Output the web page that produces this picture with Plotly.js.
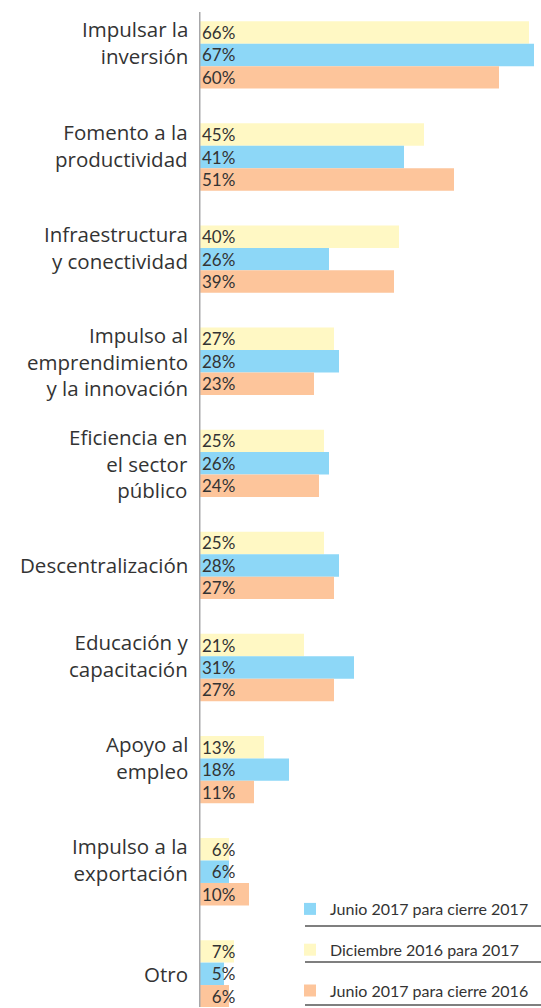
<!DOCTYPE html>
<html>
<head>
<meta charset="utf-8">
<script src="https://cdn.plot.ly/plotly-3.0.1.min.js"></script>
<style>html,body{margin:0;padding:0;background:#fff;}#chart{width:541px;height:1008px;}</style>
</head>
<body>
<div id="chart"></div>
<script>
const categories = [
  "Impulsar la<br>inversión",
  "Fomento a la<br>productividad",
  "Infraestructura<br>y conectividad",
  "Impulso al<br>emprendimiento<br>y la innovación",
  "Eficiencia en<br>el sector<br>público",
  "Descentralización",
  "Educación y<br>capacitación",
  "Apoyo al<br>empleo",
  "Impulso a la<br>exportación",
  "Otro"
];
const seriesNames = ["Diciembre 2016 para 2017", "Junio 2017 para cierre 2017", "Junio 2017 para cierre 2016"];
const dic2016para2017 = [66, 45, 40, 27, 25, 25, 21, 13, 6, 7];
const jun2017cierre2017 = [67, 41, 26, 28, 26, 28, 31, 18, 6, 5];
const jun2017cierre2016 = [60, 51, 39, 23, 24, 27, 27, 11, 10, 6];
const colors = ["#FFF8C4", "#8DD7F7", "#FDC59B"];
const ranks = [2, 1, 3];

const fmt = v => (v < 10 ? "\u2007" : "") + v + "%";
const allSeries = [dic2016para2017, jun2017cierre2017, jun2017cierre2016];

const traces = allSeries.map((vals, i) => ({
  type: "bar",
  orientation: "h",
  name: seriesNames[i],
  x: vals,
  y: categories,
  text: vals.map(fmt),
  textposition: "inside",
  insidetextanchor: "start",
  constraintext: "none",
  textangle: 0,
  insidetextfont: {family: "Lato, sans-serif", size: 17, color: "#333"},
  marker: {color: colors[i], line: {width: 0}},
  legendrank: ranks[i],
  legendgroup: "g" + i,
  hoverinfo: "none",
  cliponaxis: false
}));

const W = 541, H = 1008, L = 199;
const py = p => 1 - p / H;
const px = p => (p - L) / (W - L);

const labelAnnotations = categories.map((c, i) => {
  const lines = c.split("<br>").length;
  return {
    xref: "paper", yref: "y",
    x: 0, y: i,
    xanchor: "right", yanchor: "middle",
    xshift: -9,
    yshift: lines === 2 ? 12 : 0,
    align: "right",
    text: c,
    showarrow: false,
    font: {family: "'Open Sans', sans-serif", size: 20.5, color: "#333"}
  };
});

const layout = {
  width: W, height: H,
  margin: {l: L, r: 0, t: 0, b: 0},
  paper_bgcolor: "#fff",
  plot_bgcolor: "#fff",
  barmode: "group",
  bargap: 0.34,
  bargroupgap: 0,
  font: {family: "Lato, sans-serif", color: "#333"},
  xaxis: {range: [0, 68.4], showgrid: false, zeroline: false, showticklabels: false, showline: false, fixedrange: true},
  yaxis: {
    type: "category",
    range: [9.325, -0.538],
    autorange: false,
    showgrid: false, zeroline: false, showline: false,
    ticks: "",
    showticklabels: false
  },
  annotations: labelAnnotations,
  showlegend: true,
  legend: {
    x: px(290), xanchor: "left",
    y: py(893), yanchor: "top",
    bgcolor: "rgba(0,0,0,0)",
    font: {family: "Lato, sans-serif", size: 16, color: "#333"},
    traceorder: "grouped",
    tracegroupgap: 17,
    itemwidth: 30
  },
  shapes: [
    {type: "line", xref: "x", yref: "paper", x0: 0, x1: 0, y0: 0, y1: py(12), line: {color: "#a7a7a9", width: 3}},
    {type: "line", xref: "paper", yref: "paper", x0: px(305), x1: 1.01, y0: py(927), y1: py(927), line: {color: "#555", width: 1.5}},
    {type: "line", xref: "paper", yref: "paper", x0: px(305), x1: 1.01, y0: py(963), y1: py(963), line: {color: "#555", width: 1.5}},
    {type: "line", xref: "paper", yref: "paper", x0: px(305), x1: 1.01, y0: py(1006), y1: py(1006), line: {color: "#555", width: 1.5}}
  ]
};

Plotly.newPlot("chart", traces, layout, {displayModeBar: false, staticPlot: true});
</script>
</body>
</html>
